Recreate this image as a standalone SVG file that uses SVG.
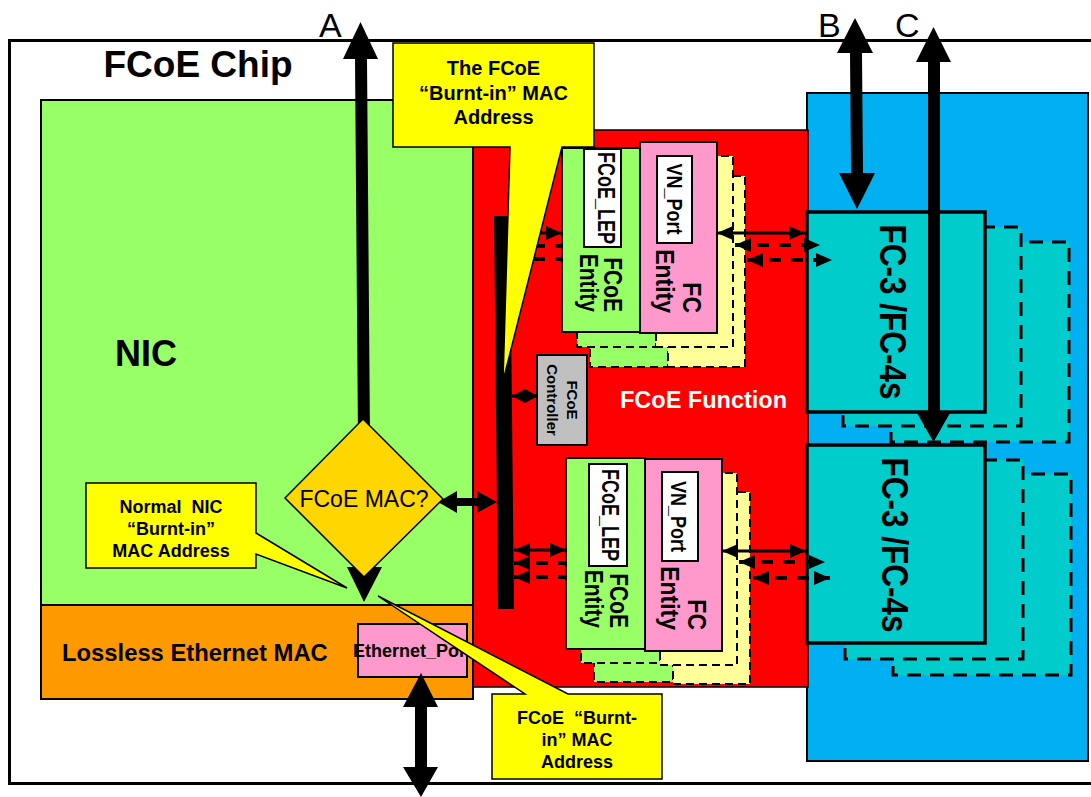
<svg xmlns="http://www.w3.org/2000/svg" width="1091" height="797" viewBox="0 0 1091 797">
<defs>
<style>
text{font-family:"Liberation Sans",Arial,Helvetica,sans-serif;fill:#000}
.b{font-weight:bold}
.box{stroke:#000;stroke-width:2}
.green{fill:#99FF66}
.pink{fill:#FF99CC}
.ylw{fill:#FFFF99}
.white{fill:#FFFFFF;stroke:#000;stroke-width:2}
.copy{stroke:#000;stroke-width:2;stroke-dasharray:8 5}
.fcmain{fill:#00CCCC;stroke:#000;stroke-width:3.5}
.fccopy{fill:#00CCCC;stroke:#000;stroke-width:3;stroke-dasharray:14 9}
.callout{fill:#FFFF00;stroke:#000;stroke-width:1.5}
.thin{stroke:#000;stroke-width:3;fill:none}
.dash{stroke:#000;stroke-width:4;stroke-dasharray:12 10;fill:none}
.thick{fill:#000}
</style>
<marker id="ah" viewBox="0 0 16 14" refX="16" refY="7" markerWidth="16" markerHeight="14" markerUnits="userSpaceOnUse" orient="auto-start-reverse">
<path d="M0,0 L16,7 L0,14 z" fill="#000"/>
</marker>
</defs>

<g id="chip">
<rect x="9.5" y="40.5" width="1090" height="743" fill="#FFFFFF" stroke="#000" stroke-width="3"/>
<text x="198" y="77" font-size="37" class="b" text-anchor="middle">FCoE Chip</text>
<text x="319" y="37" font-size="34">A</text>
<text x="818" y="37" font-size="34">B</text>
<text x="895" y="37" font-size="34">C</text>
</g>

<g id="fc-area">
<rect x="807" y="93" width="281" height="668" fill="#00B0F0" stroke="#000" stroke-width="2"/>
</g>

<g id="fcoe-function">
<rect x="473" y="130" width="335" height="557" fill="#FF0000" stroke="#000" stroke-width="1.5"/>
<text x="703.5" y="408" font-size="23.5" class="b" text-anchor="middle" style="fill:#FFFFFF">FCoE Function</text>
</g>

<g id="nic">
<rect x="41" y="100" width="432" height="505" class="green box"/>
<text x="115" y="366" font-size="36" class="b">NIC</text>
</g>

<g id="lossless-mac">
<rect x="41" y="605" width="432" height="94" fill="#FF9900" class="box"/>
<text x="62" y="661" font-size="23.8" class="b">Lossless Ethernet MAC</text>
</g>

<g id="ethernet-port">
<rect x="358" y="624" width="109" height="53" class="pink box"/>
<text x="412.5" y="657" font-size="18" class="b" text-anchor="middle">Ethernet_Port</text>
</g>

<g id="fc34-upper">
<rect x="891" y="242" width="178" height="200" class="fccopy"/>
<rect x="843" y="227" width="178" height="199" class="fccopy"/>
<rect x="807" y="212" width="178" height="200" class="fcmain"/>
<text transform="translate(880,312) rotate(90) scale(1,1.2)" font-size="31.5" class="b" text-anchor="middle">FC-3 /FC-4s</text>
</g>

<g id="fc34-lower">
<rect x="893" y="474" width="178" height="201" class="fccopy"/>
<rect x="845" y="460" width="178" height="199" class="fccopy"/>
<rect x="807" y="445" width="178" height="198" class="fcmain"/>
<text transform="translate(882,545) rotate(90) scale(1,1.2)" font-size="31.5" class="b" text-anchor="middle">FC-3 /FC-4s</text>
</g>

<g id="entities-upper">
<rect x="590" y="182" width="78" height="185" class="green copy"/>
<rect x="668" y="176" width="77" height="191" class="ylw copy"/>
<rect x="577" y="162" width="79" height="185" class="green copy"/>
<rect x="656" y="156" width="77" height="191" class="ylw copy"/>
<rect x="562" y="148" width="78" height="184" class="green box"/>
<rect x="640" y="142" width="77" height="191" class="pink box"/>
<rect x="584" y="149" width="37" height="98" class="white"/>
<rect x="657" y="156" width="35" height="87" class="white"/>
<text transform="translate(598,198) rotate(90) scale(1,1.3)" font-size="18" class="b" text-anchor="middle">FCoE_LEP</text>
<text transform="translate(667,199) rotate(90) scale(1,1.25)" font-size="18" class="b" text-anchor="middle">VN_Port</text>
<text transform="translate(604,312) rotate(90) scale(1,1.2)" font-size="21" class="b" text-anchor="end">FCoE</text>
<text transform="translate(580,312) rotate(90) scale(1,1.2)" font-size="21" class="b" text-anchor="end">Entity</text>
<text transform="translate(683,313) rotate(90) scale(1,1.1)" font-size="23" class="b" text-anchor="end">FC</text>
<text transform="translate(656,313) rotate(90) scale(1,1.1)" font-size="23" class="b" text-anchor="end">Entity</text>
</g>

<g id="entities-lower">
<rect x="594" y="491" width="79" height="191" class="green copy"/>
<rect x="673" y="492" width="77" height="192" class="ylw copy"/>
<rect x="581" y="472" width="79" height="191" class="green copy"/>
<rect x="660" y="473" width="77" height="192" class="ylw copy"/>
<rect x="566" y="458" width="79" height="191" class="green box"/>
<rect x="645" y="459" width="77" height="192" class="pink box"/>
<rect x="589" y="464" width="38" height="102" class="white"/>
<rect x="662" y="472" width="36" height="89" class="white"/>
<text transform="translate(602,515) rotate(90) scale(1,1.3)" font-size="18" class="b" text-anchor="middle">FCoE_LEP</text>
<text transform="translate(671,516.5) rotate(90) scale(1,1.25)" font-size="18" class="b" text-anchor="middle">VN_Port</text>
<text transform="translate(610,628) rotate(90) scale(1,1.2)" font-size="21" class="b" text-anchor="end">FCoE</text>
<text transform="translate(585,628) rotate(90) scale(1,1.2)" font-size="21" class="b" text-anchor="end">Entity</text>
<text transform="translate(688,630) rotate(90) scale(1,1.1)" font-size="23" class="b" text-anchor="end">FC</text>
<text transform="translate(661,630) rotate(90) scale(1,1.1)" font-size="23" class="b" text-anchor="end">Entity</text>
</g>

<g id="fcoe-controller">
<rect x="537" y="355" width="50" height="90" fill="#C0C0C0" class="box"/>
<text transform="translate(567,400) rotate(90)" font-size="15" class="b" text-anchor="middle">FCoE</text>
<text transform="translate(547,400) rotate(90)" font-size="15" class="b" text-anchor="middle">Controller</text>
</g>

<g id="connectors">
<polygon class="thick" points="494,216 510,216 514,609 498,609"/>
<line x1="511" y1="233" x2="562" y2="233" class="thin" marker-start="url(#ah)" marker-end="url(#ah)"/>
<line x1="511" y1="246" x2="562" y2="246" class="dash" marker-start="url(#ah)"/>
<line x1="511" y1="259" x2="562" y2="259" class="dash" marker-start="url(#ah)"/>
<line x1="717" y1="233" x2="805" y2="233" class="thin" marker-start="url(#ah)" marker-end="url(#ah)"/>
<line x1="735" y1="245" x2="820" y2="245" class="dash" marker-start="url(#ah)" marker-end="url(#ah)"/>
<line x1="747" y1="260" x2="832" y2="260" class="dash" marker-start="url(#ah)" marker-end="url(#ah)"/>
<line x1="514" y1="550" x2="566" y2="550" class="thin" marker-start="url(#ah)" marker-end="url(#ah)"/>
<line x1="514" y1="563" x2="566" y2="563" class="dash" marker-start="url(#ah)"/>
<line x1="514" y1="577" x2="566" y2="577" class="dash" marker-start="url(#ah)"/>
<line x1="722" y1="551" x2="806" y2="551" class="thin" marker-start="url(#ah)" marker-end="url(#ah)"/>
<line x1="739" y1="562" x2="825" y2="562" class="dash" marker-start="url(#ah)" marker-end="url(#ah)"/>
<line x1="753" y1="578" x2="830" y2="578" class="dash" marker-start="url(#ah)" marker-end="url(#ah)"/>
<line x1="512" y1="396" x2="538" y2="396" class="thin"/>
<polygon class="thick" points="512,396 525,389 538,396 525,403"/>
<polygon class="thick" points="438,502 457,491 457,498 477,498 477,491 497,502 477,513 477,506 457,506 457,513"/>
<polygon class="thick" points="360.5,22 378,59 367,59 371,567 382,567 364,602 347,567 359,567 355,59 343,59"/>
<polygon class="thick" points="855,18 873,53 862,53 863,173 875,173 857,209 839,173 851,173 850,53 837,53"/>
<polygon class="thick" points="933.5,27 951,62 940,62 940,413 950,413 933.5,442 917,413 928,413 928,62 916,62"/>
<polygon class="thick" points="421,673 438,707 427,707 427,767 438,767 421,797 403,767 415,767 415,707 403,707"/>
</g>

<g id="fcoe-mac-decision">
<polygon points="285,498 363,419 443,499 364,577" fill="#FFD700" stroke="#000" stroke-width="1.5"/>
<text x="364" y="507" font-size="23" text-anchor="middle">FCoE MAC?</text>
</g>

<g id="callout-fcoe-burnt">
<path class="callout" d="M393,43 H594 V147 H562 L503,381 L510,147 H393 Z"/>
<text x="493.5" y="75" font-size="20" class="b" text-anchor="middle">The FCoE</text>
<text x="493.5" y="100" font-size="20" class="b" text-anchor="middle">“Burnt-in” MAC</text>
<text x="493.5" y="124" font-size="20" class="b" text-anchor="middle">Address</text>
</g>

<g id="callout-nic-burnt">
<path class="callout" d="M86,483 H256 V533 L347,588 L256,554 V568 H86 Z"/>
<text x="171" y="513" font-size="18" class="b" text-anchor="middle">Normal&#160; NIC</text>
<text x="171" y="535" font-size="18" class="b" text-anchor="middle">“Burnt-in”</text>
<text x="171" y="557" font-size="18" class="b" text-anchor="middle">MAC Address</text>
</g>

<g id="callout-fcoe-burnt-2">
<path class="callout" d="M492,694 H525 L378,596 L568,694 H662 V779 H492 Z"/>
<text x="577" y="724" font-size="18" class="b" text-anchor="middle">FCoE&#160; “Burnt-</text>
<text x="577" y="746" font-size="18" class="b" text-anchor="middle">in” MAC</text>
<text x="577" y="768" font-size="18" class="b" text-anchor="middle">Address</text>
</g>
</svg>
